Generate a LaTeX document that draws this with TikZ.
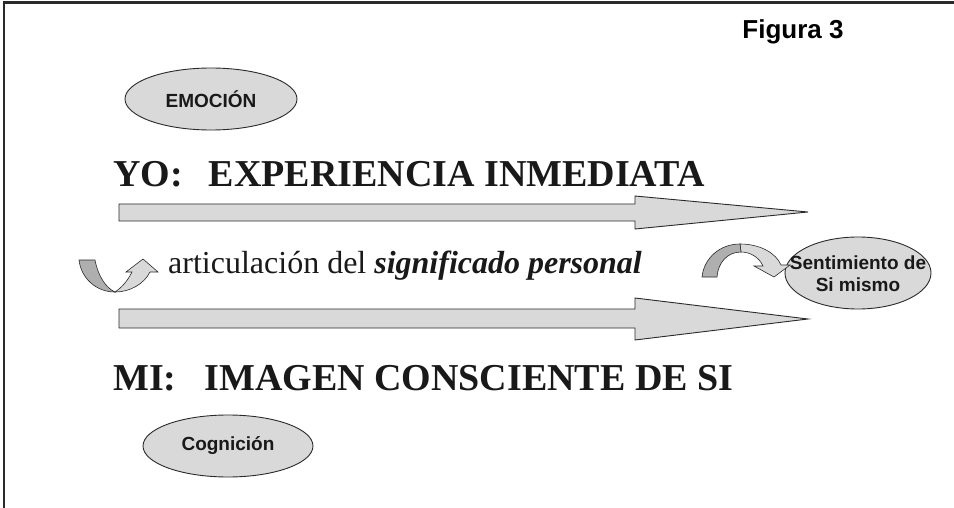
\documentclass[tikz,border=0pt]{standalone}
\usepackage{fontspec}
\setmainfont{Liberation Serif}
\newfontfamily\arialf{Liberation Sans}
\usetikzlibrary{shapes.geometric}
\definecolor{fillgray}{HTML}{D9D9D9}
\definecolor{darkfill}{HTML}{AFAFAF}
\definecolor{edge}{HTML}{2A2A2A}
\tikzset{
  bubble/.style={ellipse, draw=edge, line width=0.9pt, fill=fillgray, inner sep=0pt,
    font=\arialf\bfseries\fontsize{19}{22}\selectfont, align=center, text=black!90},
  bubbletext/.style={inner sep=0pt, font=\arialf\bfseries\fontsize{19}{22}\selectfont, align=center, text=black!90},
  bigtext/.style={anchor=base west, inner sep=0pt, font=\bfseries\fontsize{38}{40}\selectfont, text=black!90},
  blockarrow/.style={draw=edge, line width=0.9pt, fill=fillgray, line join=miter},
  curvedark/.style={draw=edge, line width=0.6pt, fill=darkfill},
  curvelight/.style={draw=edge, line width=0.6pt, fill=fillgray},
}
\begin{document}
\begin{tikzpicture}[x=1pt,y=-1pt]
\useasboundingbox (0,0) rectangle (954,508);
\fill[white] (0,0) rectangle (954,508);
% frame
\draw[edge, line width=2.6pt] (4,508) -- (4,2.5) -- (954,2.5);
% title
\node[font=\arialf\bfseries\fontsize{26}{28}\selectfont, inner sep=0pt] (fig) at (793,32) {Figura 3};
% ellipses
\node[bubble, minimum width=172, minimum height=62] (emo) at (211,99) {EMOCIÓN};
\node[bubble, minimum width=170, minimum height=62] (cog) at (228,446) {Cognición};
\node[bubble, minimum width=146, minimum height=72] (sent) at (858,273) {};
\node[bubbletext] (senttext) at ([yshift=-1]sent.center) {Sentimiento de\\Si mismo};
% big texts
\node[bigtext] (yo) at (113,187) {YO:\hspace{26pt}EXPERIENCIA INMEDIATA};
\node[bigtext] (mi) at (113,390) {MI:\hspace{28pt}IMAGEN CONSCIENTE DE SI};
\node[anchor=base west, inner sep=0pt, font=\fontsize{32}{34}\selectfont, text=black!90] (art) at (168,273)
  {articulación del \textbf{\textit{significado personal}}};
% block arrows
\draw[blockarrow] (119,204) -- (635,204) -- (635,196) -- (808,212) -- (635,229) -- (635,221) -- (119,221) -- cycle;
\draw[blockarrow] (119,309) -- (635,309) -- (635,298) -- (808,319) -- (635,340) -- (635,328) -- (119,328) -- cycle;
% left curved arrow (U-turn up)
\draw[curvelight] (115,292) .. controls (130,292) and (144,284) .. (150,272) -- (158,272) -- (143,259) -- (126,272) -- (132,272)
   .. controls (127,282) and (121,288) .. (115,292) -- cycle;
\draw[curvedark] (79,260) -- (95,260) .. controls (98,276) and (106,288) .. (115,292)
   .. controls (96,292) and (81,278) .. (79,260) -- cycle;
% right curved arrow (arch down)
\draw[curvelight] (740,244) .. controls (760,244) and (776,253) .. (781,265) -- (790,265) -- (774,277) -- (754,266) -- (763,266)
   .. controls (759,257) and (750,252) .. (741,252) -- cycle;
\draw[curvedark] (702,277) .. controls (704,258) and (720,244) .. (740,244) -- (741,252)
   .. controls (727,252) and (718,263) .. (717,277) -- cycle;
\end{tikzpicture}
\end{document}
